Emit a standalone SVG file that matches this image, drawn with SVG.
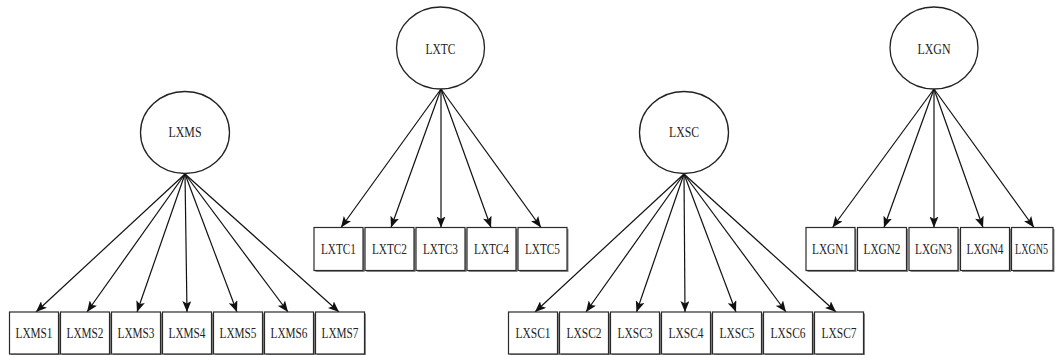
<svg xmlns="http://www.w3.org/2000/svg" width="1056" height="355" viewBox="0 0 1056 355">
<style>
.lat{fill:#fff;stroke:#222;stroke-width:1.3}
.box{fill:#fff;stroke:#2a2a2a;stroke-width:1.2}
.sh{fill:#8a8a8a}
.t{font-family:"Liberation Serif","Times New Roman",serif;font-size:14px;fill:#222;text-anchor:middle}
.c line{stroke:#111;stroke-width:1.2;marker-end:url(#ah)}
</style>
<defs>
<marker id="ah" markerUnits="userSpaceOnUse" markerWidth="12" markerHeight="9" refX="11" refY="4.5" orient="auto">
<path d="M0,0 L11,4.5 L0,9 L2.5,4.5 z" fill="#111"/>
</marker>
</defs>
<rect width="1056" height="355" fill="#fff"/>
<g class="c" id="connectors">
<line x1="185" y1="174" x2="36" y2="312"/>
<line x1="185" y1="174" x2="87" y2="312"/>
<line x1="185" y1="174" x2="137" y2="312"/>
<line x1="185" y1="174" x2="187" y2="312"/>
<line x1="185" y1="174" x2="237" y2="312"/>
<line x1="185" y1="174" x2="288" y2="312"/>
<line x1="185" y1="174" x2="339" y2="312"/>
<line x1="441" y1="89" x2="341" y2="227.5"/>
<line x1="441" y1="89" x2="391" y2="227.5"/>
<line x1="441" y1="89" x2="441" y2="227.5"/>
<line x1="441" y1="89" x2="491" y2="227.5"/>
<line x1="441" y1="89" x2="541" y2="227.5"/>
<line x1="684" y1="174" x2="535" y2="312"/>
<line x1="684" y1="174" x2="586" y2="312"/>
<line x1="684" y1="174" x2="636.5" y2="312"/>
<line x1="684" y1="174" x2="685" y2="312"/>
<line x1="684" y1="174" x2="736" y2="312"/>
<line x1="684" y1="174" x2="786" y2="312"/>
<line x1="684" y1="174" x2="836" y2="312"/>
<line x1="934" y1="89" x2="832.5" y2="227.5"/>
<line x1="934" y1="89" x2="884" y2="227.5"/>
<line x1="934" y1="89" x2="934" y2="227.5"/>
<line x1="934" y1="89" x2="983" y2="227.5"/>
<line x1="934" y1="89" x2="1034" y2="227.5"/>
</g>
<g id="LXMS"><ellipse class="lat" cx="185" cy="132.5" rx="44.5" ry="41"/><text class="t" x="185" y="137" textLength="33" lengthAdjust="spacingAndGlyphs">LXMS</text></g>
<g id="LXTC"><ellipse class="lat" cx="440.5" cy="48" rx="44" ry="41"/><text class="t" x="440.5" y="54" textLength="30" lengthAdjust="spacingAndGlyphs">LXTC</text></g>
<g id="LXSC"><ellipse class="lat" cx="684" cy="132.5" rx="44.5" ry="41"/><text class="t" x="684" y="137" textLength="30" lengthAdjust="spacingAndGlyphs">LXSC</text></g>
<g id="LXGN"><ellipse class="lat" cx="934" cy="48" rx="44" ry="41"/><text class="t" x="934" y="54" textLength="33" lengthAdjust="spacingAndGlyphs">LXGN</text></g>

<g id="LXMS1"><rect class="sh" x="11" y="313.5" width="49" height="42"/><rect class="box" x="9.5" y="312" width="49" height="42"/><text class="t" x="34" y="338" textLength="37" lengthAdjust="spacingAndGlyphs">LXMS1</text></g>
<g id="LXMS2"><rect class="sh" x="62" y="313.5" width="49" height="42"/><rect class="box" x="60.5" y="312" width="49" height="42"/><text class="t" x="85" y="338" textLength="37" lengthAdjust="spacingAndGlyphs">LXMS2</text></g>
<g id="LXMS3"><rect class="sh" x="113" y="313.5" width="49" height="42"/><rect class="box" x="111.5" y="312" width="49" height="42"/><text class="t" x="136" y="338" textLength="37" lengthAdjust="spacingAndGlyphs">LXMS3</text></g>
<g id="LXMS4"><rect class="sh" x="164" y="313.5" width="49" height="42"/><rect class="box" x="162.5" y="312" width="49" height="42"/><text class="t" x="187" y="338" textLength="37" lengthAdjust="spacingAndGlyphs">LXMS4</text></g>
<g id="LXMS5"><rect class="sh" x="215" y="313.5" width="49" height="42"/><rect class="box" x="213.5" y="312" width="49" height="42"/><text class="t" x="238" y="338" textLength="37" lengthAdjust="spacingAndGlyphs">LXMS5</text></g>
<g id="LXMS6"><rect class="sh" x="266" y="313.5" width="49" height="42"/><rect class="box" x="264.5" y="312" width="49" height="42"/><text class="t" x="289" y="338" textLength="37" lengthAdjust="spacingAndGlyphs">LXMS6</text></g>
<g id="LXMS7"><rect class="sh" x="317" y="313.5" width="49" height="42"/><rect class="box" x="315.5" y="312" width="49" height="42"/><text class="t" x="340" y="338" textLength="37" lengthAdjust="spacingAndGlyphs">LXMS7</text></g>

<g id="LXTC1"><rect class="sh" x="315.5" y="229" width="49" height="43"/><rect class="box" x="314" y="227.5" width="49" height="43"/><text class="t" x="338.5" y="254" textLength="35" lengthAdjust="spacingAndGlyphs">LXTC1</text></g>
<g id="LXTC2"><rect class="sh" x="366.5" y="229" width="49" height="43"/><rect class="box" x="365" y="227.5" width="49" height="43"/><text class="t" x="389.5" y="254" textLength="35" lengthAdjust="spacingAndGlyphs">LXTC2</text></g>
<g id="LXTC3"><rect class="sh" x="417.5" y="229" width="49" height="43"/><rect class="box" x="416" y="227.5" width="49" height="43"/><text class="t" x="440.5" y="254" textLength="35" lengthAdjust="spacingAndGlyphs">LXTC3</text></g>
<g id="LXTC4"><rect class="sh" x="468.5" y="229" width="49" height="43"/><rect class="box" x="467" y="227.5" width="49" height="43"/><text class="t" x="491.5" y="254" textLength="35" lengthAdjust="spacingAndGlyphs">LXTC4</text></g>
<g id="LXTC5"><rect class="sh" x="519.5" y="229" width="49" height="43"/><rect class="box" x="518" y="227.5" width="49" height="43"/><text class="t" x="542.5" y="254" textLength="35" lengthAdjust="spacingAndGlyphs">LXTC5</text></g>

<g id="LXSC1"><rect class="sh" x="510" y="313.5" width="49" height="42"/><rect class="box" x="508.5" y="312" width="49" height="42"/><text class="t" x="533" y="338" textLength="35" lengthAdjust="spacingAndGlyphs">LXSC1</text></g>
<g id="LXSC2"><rect class="sh" x="561" y="313.5" width="49" height="42"/><rect class="box" x="559.5" y="312" width="49" height="42"/><text class="t" x="584" y="338" textLength="35" lengthAdjust="spacingAndGlyphs">LXSC2</text></g>
<g id="LXSC3"><rect class="sh" x="612" y="313.5" width="49" height="42"/><rect class="box" x="610.5" y="312" width="49" height="42"/><text class="t" x="635" y="338" textLength="35" lengthAdjust="spacingAndGlyphs">LXSC3</text></g>
<g id="LXSC4"><rect class="sh" x="663" y="313.5" width="49" height="42"/><rect class="box" x="661.5" y="312" width="49" height="42"/><text class="t" x="686" y="338" textLength="35" lengthAdjust="spacingAndGlyphs">LXSC4</text></g>
<g id="LXSC5"><rect class="sh" x="714" y="313.5" width="49" height="42"/><rect class="box" x="712.5" y="312" width="49" height="42"/><text class="t" x="737" y="338" textLength="35" lengthAdjust="spacingAndGlyphs">LXSC5</text></g>
<g id="LXSC6"><rect class="sh" x="765" y="313.5" width="49" height="42"/><rect class="box" x="763.5" y="312" width="49" height="42"/><text class="t" x="788" y="338" textLength="35" lengthAdjust="spacingAndGlyphs">LXSC6</text></g>
<g id="LXSC7"><rect class="sh" x="816" y="313.5" width="49" height="42"/><rect class="box" x="814.5" y="312" width="49" height="42"/><text class="t" x="839" y="338" textLength="35" lengthAdjust="spacingAndGlyphs">LXSC7</text></g>

<g id="LXGN1"><rect class="sh" x="807.5" y="229" width="49" height="43"/><rect class="box" x="806" y="227.5" width="49" height="43"/><text class="t" x="830.5" y="254" textLength="37" lengthAdjust="spacingAndGlyphs">LXGN1</text></g>
<g id="LXGN2"><rect class="sh" x="859" y="229" width="49" height="43"/><rect class="box" x="857.5" y="227.5" width="49" height="43"/><text class="t" x="882" y="254" textLength="37" lengthAdjust="spacingAndGlyphs">LXGN2</text></g>
<g id="LXGN3"><rect class="sh" x="910.5" y="229" width="49" height="43"/><rect class="box" x="909" y="227.5" width="49" height="43"/><text class="t" x="933.5" y="254" textLength="37" lengthAdjust="spacingAndGlyphs">LXGN3</text></g>
<g id="LXGN4"><rect class="sh" x="962" y="229" width="49" height="43"/><rect class="box" x="960.5" y="227.5" width="49" height="43"/><text class="t" x="985" y="254" textLength="37" lengthAdjust="spacingAndGlyphs">LXGN4</text></g>
<g id="LXGN5"><rect class="sh" x="1013" y="229" width="41.5" height="43"/><rect class="box" x="1011.5" y="227.5" width="41.5" height="43"/><text class="t" transform="translate(1031.5,254) scale(0.72,1)" x="0" y="0">LXGN5</text></g>
</svg>
